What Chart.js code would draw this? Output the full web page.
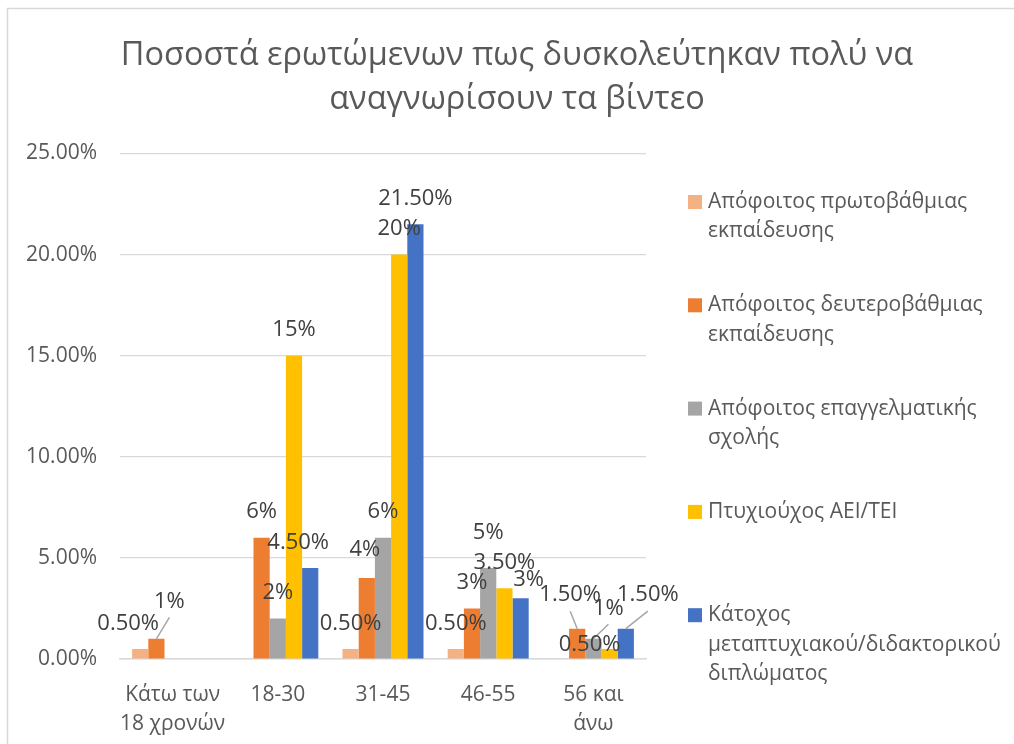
<!DOCTYPE html>
<html>
<head>
<meta charset="utf-8">
<script src="https://cdn.jsdelivr.net/npm/chart.js@4.4.0/dist/chart.umd.min.js"></script>
<style>
html, body { margin: 0; padding: 0; background: #fff; }
canvas { display: block; }
</style>
</head>
<body>
<canvas id="chart" width="1014" height="744"></canvas>
<script>
const titleLines = ["Ποσοστά ερωτώμενων πως δυσκολεύτηκαν πολύ να", "αναγνωρίσουν τα βίντεο"];
const ageGroups = [["Κάτω των", "18 χρονών"], "18-30", "31-45", "46-55", ["56 και", "άνω"]];
const seriesNames = [
    "Απόφοιτος πρωτοβάθμιας εκπαίδευσης",
    "Απόφοιτος δευτεροβάθμιας εκπαίδευσης",
    "Απόφοιτος επαγγελματικής σχολής",
    "Πτυχιούχος ΑΕΙ/ΤΕΙ",
    "Κάτοχος μεταπτυχιακού/διδακτορικού διπλώματος",
];
const primaryEdu   = [0.5, null, 0.5, 0.5, null];
const secondaryEdu = [1, 6, 4, 2.5, 1.5];
const vocational   = [null, 2, 6, 4.5, 1];
const university   = [null, 15, 20, 3.5, 0.5];
const postgraduate = [null, 4.5, 21.5, 3, 1.5];

// labels as they are written on the chart
const primaryLabels   = ["0.50%", "", "0.50%", "0.50%", ""];
const secondaryLabels = ["1%", "6%", "4%", "3%", "1.50%"];
const vocationalLabels = ["", "2%", "6%", "5%", "1%"];
const universityLabels = ["", "15%", "20%", "3.50%", "0.50%"];
const postgradLabels  = ["", "4.50%", "21.50%", "3%", "1.50%"];

const yTicks = [0, 5, 10, 15, 20, 25];

const colors = ["#F4B183", "#ED7D31", "#A5A5A5", "#FFC000", "#4472C4"];
const textColor = "#595959";
const fontFamily = "'Open Sans', 'Noto Sans', sans-serif";

// moved labels (dataset,index) -> offset from the default spot
const labelNudges = {
    "0,0": { dx: -12, dy: 0 },
    "1,0": { dx: 13, dy: -12, leader: true },
    "1,2": { dx: -2, dy: -3 },
    "2,3": { dx: 0, dy: -10 },
    "4,1": { dx: -12, dy: 0 },
    "4,3": { dx: 8, dy: 7 },
    "1,4": { dx: -7, dy: -8, leader: true },
    "2,4": { dx: 15, dy: -5, leader: true },
    "3,4": { dx: -20, dy: 21 },
    "4,4": { dx: 22, dy: -8, leader: true },
};

const valueLabels = [primaryLabels, secondaryLabels, vocationalLabels, universityLabels, postgradLabels];

const chartFrame = {
    id: "chartFrame",
    beforeDraw(chart) {
        const ctx = chart.ctx;
        ctx.save();
        ctx.strokeStyle = "#d9d9d9";
        ctx.lineWidth = 1.5;
        ctx.strokeRect(7.5, 8.5, 1200, 1000);
        ctx.restore();
    },
    afterDraw(chart) {
        const ctx = chart.ctx;
        ctx.save();
        ctx.fillStyle = textColor;
        ctx.font = "32.5px " + fontFamily;
        ctx.textAlign = "center";
        ctx.textBaseline = "middle";
        ctx.fillText(titleLines[0], 517, 56);
        ctx.fillText(titleLines[1], 517, 100);

        // legend on the right
        ctx.font = "21px " + fontFamily;
        ctx.textAlign = "left";
        chart.data.datasets.forEach((ds, i) => {
            const y0 = 202 + i * 103.3;
            ctx.fillStyle = ds.backgroundColor;
            ctx.fillRect(688, y0 - 7, 14, 14);
            ctx.fillStyle = textColor;
            const words = ds.label.split(" ");
            const lines = [];
            let line = "";
            words.forEach(w => {
                const test = line ? line + " " + w : w;
                if (line && ctx.measureText(test).width > 300) {
                    lines.push(line);
                    line = w;
                } else {
                    line = test;
                }
            });
            lines.push(line);
            lines.forEach((l, k) => ctx.fillText(l, 708, y0 + k * 29.5));
        });
        ctx.restore();
    },
};

const barLabels = {
    id: "barLabels",
    afterDatasetsDraw(chart) {
        const ctx = chart.ctx;
        ctx.save();
        ctx.font = "22px " + fontFamily;
        ctx.textAlign = "center";
        ctx.textBaseline = "middle";
        chart.data.datasets.forEach((ds, di) => {
            const meta = chart.getDatasetMeta(di);
            meta.data.forEach((bar, i) => {
                const txt = valueLabels[di][i];
                if (!txt || ds.data[i] == null) return;
                const n = labelNudges[di + "," + i] || { dx: 0, dy: 0 };
                const x = bar.x + n.dx;
                const y = bar.y - 25.5 + n.dy;
                if (n.leader) {
                    ctx.strokeStyle = "#a6a6a6";
                    ctx.lineWidth = 1.5;
                    ctx.beginPath();
                    ctx.moveTo(x, y + 16);
                    ctx.lineTo(bar.x, bar.y);
                    ctx.stroke();
                }
                ctx.fillStyle = "#404040";
                ctx.fillText(txt, x, y);
            });
        });
        ctx.restore();
    },
};

const seriesData = [primaryEdu, secondaryEdu, vocational, university, postgraduate];

new Chart(document.getElementById("chart"), {
    type: "bar",
    data: {
        labels: ageGroups,
        datasets: seriesData.map((d, i) => ({
            label: seriesNames[i],
            data: d,
            backgroundColor: colors[i],
            borderWidth: 0,
            categoryPercentage: 0.77,
            barPercentage: 1.0,
        })),
    },
    options: {
        responsive: false,
        animation: false,
        layout: {
            padding: { top: 153.5, right: 368, bottom: 0, left: 0 },
        },
        plugins: {
            legend: { display: false },
            title: { display: false },
            tooltip: { enabled: false },
        },
        scales: {
            x: {
                grid: { display: false },
                border: { color: "#d9d9d9", width: 1.5 },
                ticks: {
                    color: textColor,
                    font: { family: fontFamily, size: 21, lineHeight: "29px" },
                    padding: 14,
                    maxRotation: 0,
                    autoSkip: false,
                },
                afterFit(scale) { scale.height = 85; },
            },
            y: {
                min: 0,
                max: 25,
                afterBuildTicks(scale) { scale.ticks = yTicks.map(v => ({ value: v })); },
                grid: {
                    color: "#d9d9d9",
                    lineWidth: 1.2,
                    drawTicks: false,
                },
                border: { display: false },
                ticks: {
                    color: textColor,
                    font: { family: fontFamily, size: 21 },
                    padding: 23,
                    callback: v => v.toFixed(2) + "%",
                },
                afterFit(scale) { scale.width = 120; },
            },
        },
    },
    plugins: [chartFrame, barLabels],
});
</script>
</body>
</html>
